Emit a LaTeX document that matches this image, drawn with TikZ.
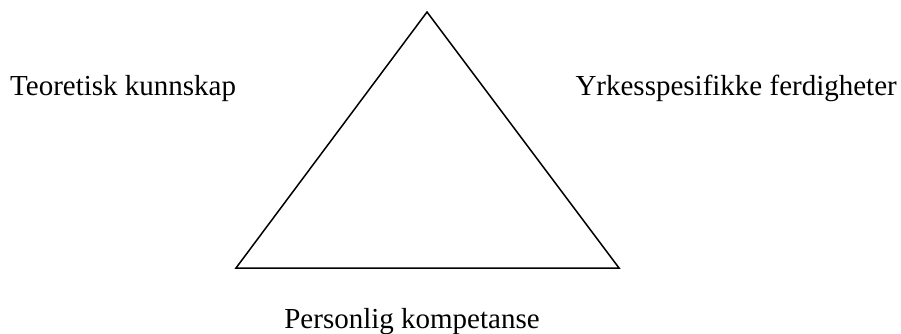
\documentclass[tikz,border=0pt]{standalone}
\usepackage{fontspec}
\setmainfont{Liberation Serif}
\usepackage{tikz}

\begin{document}
\begin{tikzpicture}[
				x=1pt,
				y=-1pt,
				line cap=round,
				line join=miter,
				every node/.style={font=\fontsize{29}{34}\selectfont, inner sep=0pt},
				side/.style={line width=1.5pt}
				]
				\useasboundingbox (0,0) rectangle (901,333);
				
				\coordinate (top) at (427,12);
				\coordinate (left) at (236,268);
				\coordinate (right) at (619,268);
				\draw[side] (top) -- (left) -- (right) -- cycle;
				
				\node[anchor=base west] (teori) at (10,95) {Teoretisk kunnskap};
				\node[anchor=base east] (yrke) at (897,95) {Yrkesspesifikke ferdigheter};
				\node[anchor=base] (person) at (412,328) {Personlig kompetanse};
			\end{tikzpicture}
\end{document}
